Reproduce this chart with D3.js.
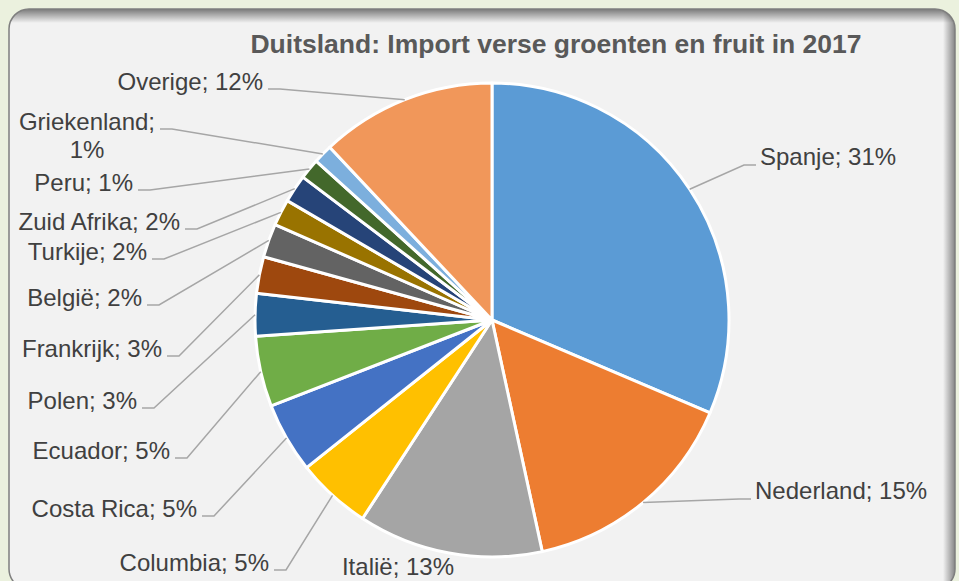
<!DOCTYPE html>
<html>
<head>
<meta charset="utf-8">
<script src="https://cdn.jsdelivr.net/npm/d3@7"></script>
<style>
    html, body { margin: 0; padding: 0; background: #ebf1de; }
    svg { display: block; font-family: "Liberation Sans", Arial, sans-serif; }
</style>
</head>
<body>
<div id="chart"></div>
<script>
// landen, in volgorde van de taartpunten (met de klok mee vanaf boven)
const countries = ['Spanje', 'Nederland', 'Italië', 'Columbia', 'Costa Rica', 'Ecuador', 'Polen',
    'Frankrijk', 'België', 'Turkije', 'Zuid Afrika', 'Peru', 'Griekenland', 'Overige'];
const shares = [31.4, 15.2, 12.6, 5.1, 4.8, 4.8, 2.9, 2.5, 2.3, 1.8, 1.9, 1.4, 1.3, 12.0];
const colors = ['#5b9bd5', '#ed7d31', '#a5a5a5', '#ffc000', '#4472c4', '#70ad47', '#255e91',
    '#9e480e', '#636363', '#997300', '#264478', '#43682b', '#7cafdd', '#f1975a'];
const title = 'Duitsland: Import verse groenten en fruit in 2017';

// plaats van de labels (x van het anker, y van de basislijn)
const labelLayout = [
    { x: 760, y: 165, anchor: 'start' },
    { x: 755, y: 499, anchor: 'start' },
    { x: 398, y: 575, anchor: 'middle', noLine: true },
    { x: 269, y: 571, anchor: 'end' },
    { x: 197, y: 517, anchor: 'end' },
    { x: 170, y: 459, anchor: 'end' },
    { x: 137, y: 409, anchor: 'end' },
    { x: 162, y: 357, anchor: 'end' },
    { x: 142, y: 306, anchor: 'end' },
    { x: 147, y: 260, anchor: 'end' },
    { x: 180, y: 230, anchor: 'end' },
    { x: 133, y: 191, anchor: 'end' },
    { x: 87, y: 130, anchor: 'middle', wrap: true, lineEnd: 155 },
    { x: 263, y: 90, anchor: 'end' }
];

const W = 959, H = 581;
const cx = 492, cy = 320, radius = 237;

const svg = d3.select('#chart').append('svg').attr('width', W).attr('height', H);
const defs = svg.append('defs');

// kaart met afgeronde hoeken
const card = { x: 9, y: 9, w: 946, h: 580, r: 20 };
defs.append('clipPath').attr('id', 'cardClip').append('rect')
    .attr('x', card.x).attr('y', card.y).attr('width', card.w).attr('height', card.h)
    .attr('rx', card.r).attr('ry', card.r);

const topGrad = defs.append('linearGradient').attr('id', 'topShade')
    .attr('x1', 0).attr('y1', 0).attr('x2', 0).attr('y2', 1);
topGrad.append('stop').attr('offset', '0%').attr('stop-color', '#000').attr('stop-opacity', 0.5);
topGrad.append('stop').attr('offset', '100%').attr('stop-color', '#000').attr('stop-opacity', 0);

const rightGrad = defs.append('linearGradient').attr('id', 'rightShade')
    .attr('x1', 1).attr('y1', 0).attr('x2', 0).attr('y2', 0);
rightGrad.append('stop').attr('offset', '0%').attr('stop-color', '#000').attr('stop-opacity', 0.45);
rightGrad.append('stop').attr('offset', '100%').attr('stop-color', '#000').attr('stop-opacity', 0);

svg.append('rect')
    .attr('x', card.x).attr('y', card.y).attr('width', card.w).attr('height', card.h)
    .attr('rx', card.r).attr('ry', card.r)
    .attr('fill', '#f2f2f2');

const shade = svg.append('g').attr('clip-path', 'url(#cardClip)');
shade.append('rect').attr('x', card.x).attr('y', card.y).attr('width', card.w).attr('height', 14)
    .attr('fill', 'url(#topShade)');
shade.append('rect').attr('x', card.x + card.w - 12).attr('y', card.y).attr('width', 12).attr('height', card.h)
    .attr('fill', 'url(#rightShade)');

svg.append('rect')
    .attr('x', card.x).attr('y', card.y).attr('width', card.w).attr('height', card.h)
    .attr('rx', card.r).attr('ry', card.r)
    .attr('fill', 'none').attr('stroke', '#7f7f7f').attr('stroke-width', 1.5);

// titel
svg.append('text')
    .attr('x', 556).attr('y', 53)
    .attr('text-anchor', 'middle')
    .style('font-size', '26.5px').style('font-weight', 'bold')
    .attr('fill', '#595959')
    .text(title);

// taart
const data = countries.map(function (c, i) {
    return { name: c, value: shares[i], color: colors[i], layout: labelLayout[i] };
});

const pie = d3.pie().sort(null).value(function (d) { return d.value; });
const arc = d3.arc().innerRadius(0).outerRadius(radius);
const arcs = pie(data);

const g = svg.append('g').attr('transform', 'translate(' + cx + ',' + cy + ')');

g.selectAll('path.slice').data(arcs).enter().append('path')
    .attr('class', 'slice')
    .attr('d', arc)
    .attr('fill', function (d) { return d.data.color; })
    .attr('stroke', '#fff')
    .attr('stroke-width', 3)
    .attr('stroke-linejoin', 'round');

// aanwijslijnen
function leaderPoints(d) {
    const mid = (d.startAngle + d.endAngle) / 2;
    const px = cx + radius * Math.sin(mid);
    const py = cy - radius * Math.cos(mid);
    const l = d.data.layout;
    if (l.anchor === 'start') {
        return [[l.x - 4, l.y], [l.x - 16, l.y], [px, py]];
    }
    const ex = l.lineEnd !== undefined ? l.lineEnd : l.x;
    return [[ex + 5, l.y - 1], [ex + 17, l.y - 1], [px, py]];
}

svg.append('g').selectAll('polyline').data(arcs.filter(function (d) { return !d.data.layout.noLine; }))
    .enter().append('polyline')
    .attr('points', function (d) { return leaderPoints(d).map(function (p) { return p.join(','); }).join(' '); })
    .attr('fill', 'none')
    .attr('stroke', '#a6a6a6')
    .attr('stroke-width', 1.5);

// labels
const labels = svg.append('g').selectAll('text').data(arcs).enter().append('text')
    .attr('x', function (d) { return d.data.layout.x; })
    .attr('y', function (d) { return d.data.layout.y; })
    .attr('text-anchor', function (d) { return d.data.layout.anchor; })
    .attr('fill', '#404040')
    .style('font-size', '24px');

labels.each(function (d) {
    const t = d3.select(this);
    const pct = Math.round(d.data.value) + '%';
    if (d.data.layout.wrap) {
        t.append('tspan').attr('x', d.data.layout.x).text(d.data.name + ';');
        t.append('tspan').attr('x', d.data.layout.x).attr('dy', 28).text(pct);
    } else {
        t.text(d.data.name + '; ' + pct);
    }
});
</script>
</body>
</html>
